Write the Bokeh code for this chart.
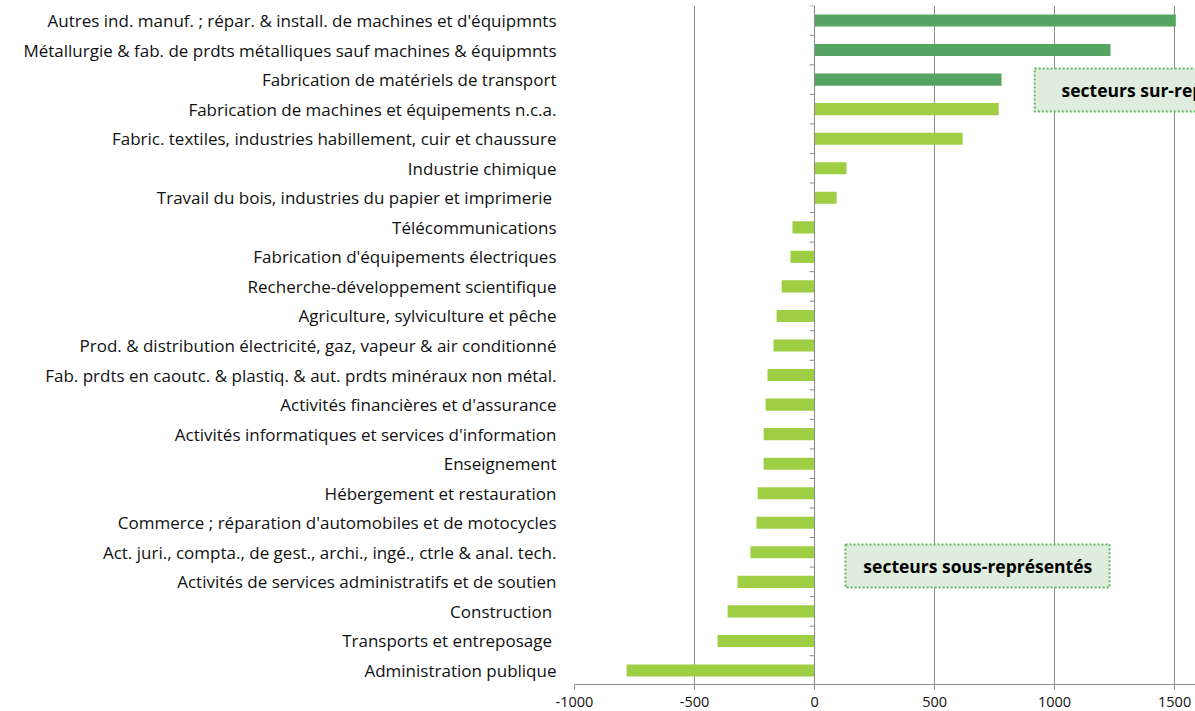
from bokeh.plotting import figure
from bokeh.models import ColumnDataSource, FixedTicker, Span, Range1d
from bokeh.core.properties import value
from bokeh.embed import file_html
from bokeh.resources import INLINE

categories = [
    "Autres ind. manuf. ; répar. & install. de machines et d'équipmnts",
    "Métallurgie & fab. de prdts métalliques sauf machines & équipmnts",
    "Fabrication de matériels de transport",
    "Fabrication de machines et équipements n.c.a.",
    "Fabric. textiles, industries habillement, cuir et chaussure",
    "Industrie chimique",
    "Travail du bois, industries du papier et imprimerie ",
    "Télécommunications",
    "Fabrication d'équipements électriques",
    "Recherche-développement scientifique",
    "Agriculture, sylviculture et pêche",
    "Prod. & distribution électricité, gaz, vapeur & air conditionné",
    "Fab. prdts en caoutc. & plastiq. & aut. prdts minéraux non métal.",
    "Activités financières et d'assurance",
    "Activités informatiques et services d'information",
    "Enseignement",
    "Hébergement et restauration",
    "Commerce ; réparation d'automobiles et de motocycles",
    "Act. juri., compta., de gest., archi., ingé., ctrle & anal. tech.",
    "Activités de services administratifs et de soutien",
    "Construction ",
    "Transports et entreposage ",
    "Administration publique",
]
values = [1505, 1233, 779, 767, 617, 133, 92, -92, -100, -137, -158, -171,
          -196, -204, -212, -212, -237, -242, -267, -321, -362, -404, -783]
highlight = [True, True, True] + [False] * 20
x_ticks = [-1000, -500, 0, 500, 1000, 1500]
x_tick_labels = ["-1000", "-500", "0", "500", "1000", "1500"]

DARK = "#56A462"
LIGHT = "#9DCE44"
GRID = "#8C8C8C"
FONT = "Open Sans"

n = len(categories)
ypos = [n - 1 - i for i in range(n)]
colors = [DARK if h else LIGHT for h in highlight]
src = ColumnDataSource(dict(y=ypos, v=values, c=colors, name=categories))

p = figure(width=1195, height=711, output_backend="svg", toolbar_location=None,
           x_range=Range1d(-1000, 1587), y_range=Range1d(-0.474, n - 1 + 0.508),
           min_border_left=574, min_border_right=0, min_border_top=5, min_border_bottom=27)
p.outline_line_color = None
p.background_fill_color = "white"

p.hbar(y="y", left=0, right="v", height=0.41, fill_color="c", line_color=None, source=src)

# zero axis line and its category ticks
p.add_layout(Span(location=0, dimension="height", line_color=GRID, line_width=1))
bnd = [k + 0.5 for k in range(-1, n)]
p.segment(x0=[-21] * len(bnd), x1=[0] * len(bnd), y0=bnd, y1=bnd, line_color=GRID, line_width=1)

# annotation boxes
p.rect(x=[679, 1340], y=[3.54, 19.65], width=[1100, 846], height=[1.455, 1.455],
       fill_color="#DFEDDF", line_color="#5DB65D", line_width=2, line_dash="2 2")
p.text(x=[680], y=[3.54], text=["secteurs sous-représentés"], text_align="center",
       text_baseline="middle", text_font=value(FONT), text_font_size="17.5px",
       text_font_style="bold", text_color="#000000")
p.text(x=[1029], y=[19.65], text=["secteurs sur-représentés"], text_align="left",
       text_baseline="middle", text_font=value(FONT), text_font_size="17.5px",
       text_font_style="bold", text_color="#000000")

# x axis
p.xaxis.ticker = FixedTicker(ticks=x_ticks)
p.xaxis.major_label_overrides = {t: s for t, s in zip(x_ticks, x_tick_labels)}
p.xaxis.axis_line_color = GRID
p.xaxis.major_tick_line_color = GRID
p.xaxis.major_tick_out = 5
p.xaxis.major_tick_in = 0
p.xaxis.minor_tick_line_color = None
p.xaxis.major_label_standoff = 7
p.xaxis.major_label_text_font = FONT
p.xaxis.major_label_text_font_size = "14.5px"
p.xaxis.major_label_text_color = "#111111"

# y axis (labels only)
p.yaxis.ticker = FixedTicker(ticks=ypos)
p.yaxis.major_label_overrides = {y: c for y, c in zip(ypos, categories)}
p.yaxis.axis_line_color = None
p.yaxis.major_tick_line_color = None
p.yaxis.minor_tick_line_color = None
p.yaxis.major_label_standoff = 12
p.yaxis.major_label_text_font = FONT
p.yaxis.major_label_text_font_size = "17px"
p.yaxis.major_label_text_color = "#111111"

p.xgrid.ticker = FixedTicker(ticks=x_ticks)
p.xgrid.grid_line_color = GRID
p.ygrid.grid_line_color = None

open("out.html", "w").write(file_html(p, INLINE))
